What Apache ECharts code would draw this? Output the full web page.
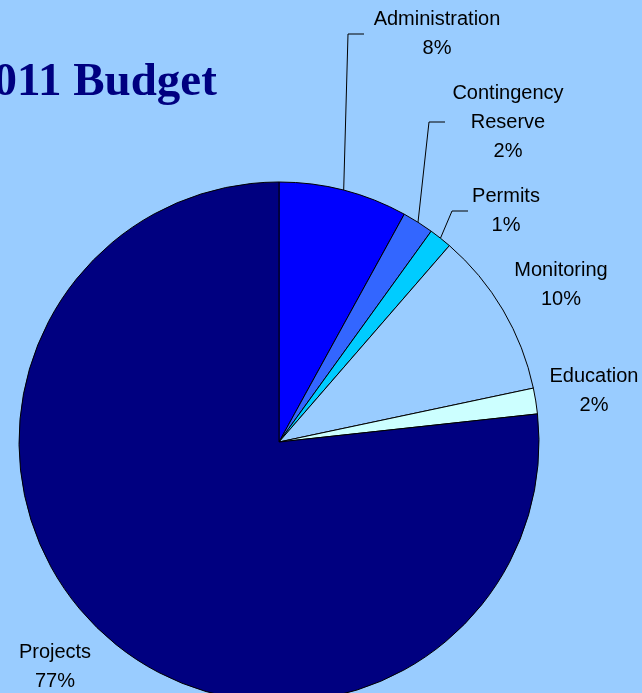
<!DOCTYPE html>
<html>
<head>
<meta charset="utf-8">
<script src="https://cdn.jsdelivr.net/npm/echarts@6/dist/echarts.min.js"></script>
<style>
html,body{margin:0;padding:0;background:#99CCFF;}
#c{width:642px;height:693px;}
</style>
</head>
<body>
<div id="c"></div>
<script>
var categories = ['Administration', 'Contingency Reserve', 'Permits', 'Monitoring', 'Education', 'Projects'];
var values = [8.0, 1.95, 1.42, 10.3, 1.6, 76.7];
var colors = ['#0000FF', '#3366FF', '#00CCFF', '#99CCFF', '#CCFFFF', '#000080'];
var titleText = '2011 Budget';

// label placement (text centre, optional elbow + end of leader line)
var labelPlace = [
  {x: 437, y: 34, elbow: [348, 34], end: [364, 34]},
  {x: 508, y: 122, elbow: [429, 122], end: [445, 122]},
  {x: 506, y: 211, elbow: [452, 211], end: [468, 211]},
  {x: 561, y: 285, elbow: null},
  {x: 594, y: 391, elbow: null},
  {x: 55, y: 667, elbow: null}
];

var chart = echarts.init(document.getElementById('c'));
var data = categories.map(function (n, i) {
  return {
    name: n,
    value: values[i],
    itemStyle: {color: colors[i]},
    labelLine: {show: !!labelPlace[i].elbow}
  };
});

chart.setOption({
  backgroundColor: '#99CCFF',
  animation: false,
  title: {
    text: titleText,
    left: -30,
    top: 59,
    padding: 0,
    textStyle: {
      fontFamily: 'Liberation Serif',
      fontWeight: 'bold',
      fontSize: 47,
      lineHeight: 47,
      color: '#000080'
    }
  },
  series: [{
    type: 'pie',
    center: [279, 442],
    radius: 260,
    startAngle: 90,
    clockwise: true,
    avoidLabelOverlap: false,
    percentPrecision: 0,
    itemStyle: {borderColor: '#000', borderWidth: 1},
    label: {
      show: true,
      position: 'outside',
      fontFamily: 'Liberation Sans',
      fontSize: 20,
      lineHeight: 29,
      color: '#000',
      align: 'center',
      formatter: function (p) {
        return p.name.replace(' ', '\n') + '\n' + p.percent + '%';
      }
    },
    labelLine: {
      show: true,
      length: 20,
      length2: 20,
      smooth: false,
      lineStyle: {color: '#000', width: 1}
    },
    labelLayout: function (params) {
      var lp = labelPlace[params.dataIndex];
      var r = {x: lp.x, y: lp.y, align: 'center', verticalAlign: 'middle'};
      if (lp.elbow && params.labelLinePoints) {
        r.labelLinePoints = [params.labelLinePoints[0], lp.elbow, lp.end];
      }
      return r;
    },
    emphasis: {disabled: true},
    data: data
  }]
});
</script>
</body>
</html>
